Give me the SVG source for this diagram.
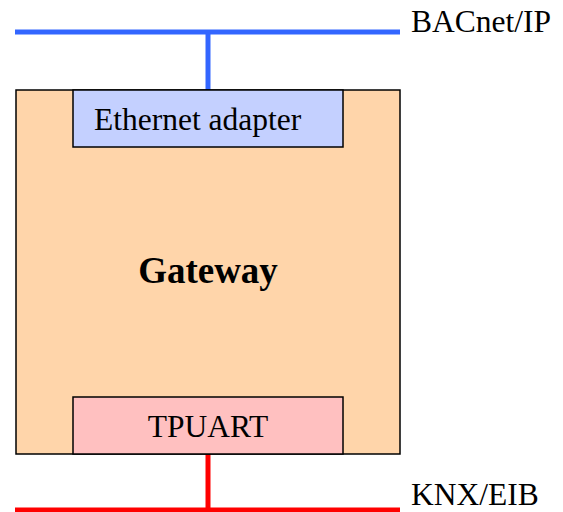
<svg xmlns="http://www.w3.org/2000/svg" width="563" height="512" viewBox="0 0 563 512">
<style>
.box{stroke:#000;stroke-width:1.5}
.t{font-family:"Liberation Serif","Times New Roman",serif;font-size:31.5px;fill:#000}
.b{font-weight:bold;font-size:37px}
.blue{stroke:#3366ff;stroke-width:5;fill:none}
.red{stroke:#ff0000;stroke-width:5;fill:none}
</style>
<rect width="563" height="512" fill="#fff"/>
<g id="connectors">
<line class="blue" x1="15" y1="32" x2="400" y2="32"/>
<line class="blue" x1="208" y1="32" x2="208" y2="90"/>
<line class="red" x1="208" y1="454" x2="208" y2="510"/>
<line class="red" x1="15" y1="510" x2="400" y2="510"/>
</g>
<g id="gateway">
<rect class="box" x="16" y="90" width="384" height="364" fill="#ffd5aa"/>
<text class="t b" x="208" y="283" text-anchor="middle">Gateway</text>
</g>
<g id="ethernet">
<rect class="box" x="73" y="90" width="270" height="57" fill="#c4d0ff"/>
<text class="t" x="94" y="130">Ethernet adapter</text>
</g>
<g id="tpuart">
<rect class="box" x="73" y="397" width="270" height="57" fill="#ffc0c0"/>
<text class="t" x="208" y="437" text-anchor="middle">TPUART</text>
</g>
<g id="labels">
<text class="t" x="411" y="32">BACnet/IP</text>
<text class="t" x="411" y="505">KNX/EIB</text>
</g>
</svg>
